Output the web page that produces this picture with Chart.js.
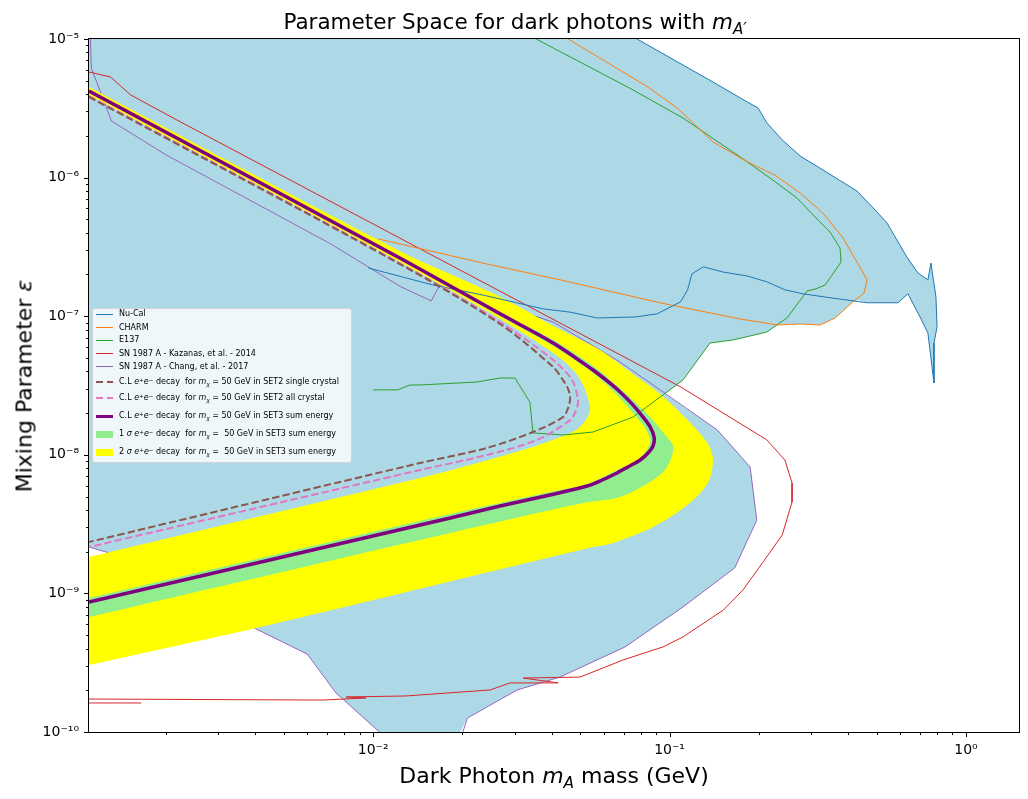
<!DOCTYPE html>
<html lang="en">
<head>
<meta charset="utf-8">
<title>Parameter Space for dark photons</title>
<script src="https://cdn.jsdelivr.net/npm/chart.js@4.4.1/dist/chart.umd.min.js"></script>
<style>
  html,body{margin:0;padding:0;background:#fff;}
  #wrap{position:relative;width:1028px;height:799px;overflow:hidden;font-family:'DejaVu Sans','Noto Sans',sans-serif;color:#000;}
  #chart{position:absolute;left:0;top:0;}
  .txt{position:absolute;white-space:nowrap;}
  #title{left:0;width:1030px;text-align:center;top:11px;font-size:21.5px;line-height:21.5px;}
  #xlabel{left:89px;width:930px;text-align:center;top:765px;font-size:22px;line-height:22px;}
  #ylabel{left:-322px;top:374.5px;width:693px;text-align:center;font-size:22px;line-height:22px;transform:rotate(-90deg);}
  sub,sup{font-size:70%;line-height:0;position:relative;vertical-align:baseline;}
  sub{top:0.3em;} sup{top:-0.45em;}
  #legend{position:absolute;left:92px;top:308px;width:260px;height:155px;box-sizing:border-box;border:1px solid rgba(204,204,204,0.8);border-radius:3px;background:rgba(255,255,255,0.8);font-size:8px;}
  .row{position:absolute;left:26px;height:10px;line-height:10px;white-space:nowrap;}
  .sw{position:absolute;left:3px;width:17px;}
</style>
</head>
<body>
<div id="wrap">
  <canvas id="chart" width="1028" height="799"></canvas>
  <div id="title" class="txt">Parameter Space for dark photons with <i>m<sub>A′</sub></i></div>
  <div id="xlabel" class="txt">Dark Photon <i>m<sub>A</sub></i> mass (GeV)</div>
  <div id="ylabel" class="txt">Mixing Parameter <i>ε</i></div>
  <div id="legend"></div>
</div>
<script>
// ---------------- data (x = dark photon mass in GeV, y = mixing parameter) ----------------
const nuCal = [[6.81e-2,1.16e-5],[7.77e-2,1.0e-5],[1.40e-1,4.90e-6],[1.83e-1,3.51e-6],[1.99e-1,3.18e-6],[2.13e-1,2.48e-6],[2.40e-1,1.87e-6],[2.76e-1,1.43e-6],[3.22e-1,1.17e-6],[4.29e-1,8.00e-7],[5.01e-1,5.65e-7],[5.42e-1,4.70e-7],[6.32e-1,2.67e-7],[6.89e-1,2.05e-7],[7.44e-1,1.83e-7],[7.62e-1,2.42e-7],[7.92e-1,1.38e-7],[7.99e-1,8.36e-8],[7.80e-1,6.41e-8],[7.80e-1,3.30e-8],[7.44e-1,7.57e-8],[7.00e-1,9.87e-8],[6.37e-1,1.45e-7],[5.90e-1,1.25e-7],[4.64e-1,1.25e-7],[3.56e-1,1.35e-7],[2.82e-1,1.45e-7],[2.45e-1,1.55e-7],[2.13e-1,1.77e-7],[1.83e-1,1.95e-7],[1.52e-1,2.08e-7],[1.30e-1,2.27e-7],[1.19e-1,2.02e-7],[1.15e-1,1.55e-7],[1.09e-1,1.27e-7],[9.08e-2,1.04e-7],[7.65e-2,9.87e-8],[5.70e-2,9.71e-8],[4.62e-2,1.07e-7],[3.74e-2,1.13e-7],[2.35e-2,1.42e-7],[1.59e-2,1.68e-7],[9.62e-3,2.23e-7]];
const charm = [[4.21e-2,1.16e-5],[4.55e-2,1.0e-5],[8.46e-2,4.50e-6],[1.06e-1,3.18e-6],[1.24e-1,2.32e-6],[1.40e-1,1.81e-6],[1.83e-1,1.30e-6],[2.27e-1,1.04e-6],[2.76e-1,7.74e-7],[3.29e-1,5.55e-7],[3.85e-1,3.67e-7],[4.64e-1,1.83e-7],[4.53e-1,1.47e-7],[4.16e-1,1.27e-7],[3.62e-1,9.71e-8],[3.22e-1,8.64e-8],[2.76e-1,8.79e-8],[2.31e-1,8.64e-8],[1.73e-1,9.55e-8],[9.29e-2,1.25e-7],[4.27e-2,1.83e-7],[2.42e-2,2.38e-7],[1.04e-2,3.61e-7]];
const e137 = [[3.11e-2,1.16e-5],[3.60e-2,9.84e-6],[4.05e-2,8.61e-6],[4.99e-2,6.82e-6],[7.53e-2,4.29e-6],[1.11e-1,2.69e-6],[1.73e-1,1.41e-6],[2.23e-1,9.61e-7],[2.69e-1,7.13e-7],[3.17e-1,4.94e-7],[3.48e-1,4.05e-7],[3.76e-1,3.10e-7],[3.79e-1,2.46e-7],[3.35e-1,1.68e-7],[3.10e-1,1.57e-7],[2.91e-1,1.52e-7],[2.49e-1,9.71e-8],[2.13e-1,7.69e-8],[1.64e-1,6.74e-8],[1.37e-1,6.41e-8],[1.11e-1,3.46e-8],[7.53e-2,1.87e-8],[5.52e-2,1.46e-8],[4.37e-2,1.39e-8],[3.46e-2,1.44e-8],[3.38e-2,2.40e-8],[3.01e-2,3.58e-8],[2.68e-2,3.58e-8],[2.24e-2,3.35e-8],[1.44e-2,3.19e-8],[1.33e-2,3.19e-8],[1.21e-2,2.94e-8],[1.00e-2,2.94e-8]];
const snKazanas = [[1.10e-3,5.78e-6],[1.30e-3,5.32e-6],[1.52e-3,3.95e-6],[2.18e-3,2.60e-6],[1.09e-1,3.09e-8],[2.13e-1,1.28e-8],[2.45e-1,9.17e-9],[2.59e-1,6.26e-9],[2.59e-1,4.57e-9],[2.40e-1,2.64e-9],[2.07e-1,1.69e-9],[1.77e-1,1.06e-9],[1.52e-1,7.59e-10],[1.11e-1,4.85e-10],[9.51e-2,4.11e-10],[6.97e-2,3.31e-10],[4.99e-2,2.49e-10],[3.21e-2,2.45e-10],[4.21e-2,2.26e-10],[2.90e-2,2.26e-10],[2.48e-2,2.01e-10],[1.29e-2,1.82e-10],[8.11e-3,1.79e-10],[9.47e-3,1.76e-10],[6.73e-3,1.70e-10],[1.05e-3,1.73e-10],[1.05e-3,1.62e-10],[1.65e-3,1.62e-10]];
const snChang = [[1.11e-3,1.16e-5],[1.12e-3,6.18e-6],[1.31e-3,2.56e-6],[2.00e-3,1.46e-6],[7.11e-3,3.37e-7],[1.24e-2,1.63e-7],[1.57e-2,1.29e-7],[1.68e-2,1.68e-7],[4.05e-2,9.08e-8],[6.81e-2,4.67e-8],[9.51e-2,2.84e-8],[1.45e-1,1.51e-8],[1.87e-1,8.17e-9],[1.97e-1,3.38e-9],[1.66e-1,1.53e-9],[1.11e-1,7.98e-10],[7.08e-2,4.11e-10],[4.27e-2,2.49e-10],[3.06e-2,2.01e-10],[2.08e-2,1.26e-10],[1.94e-2,8.0e-11],[1.04e-2,8.0e-11],[1.05e-2,1.0e-10],[7.50e-3,1.91e-10],[5.99e-3,3.65e-10],[3.97e-3,5.63e-10],[2.86e-3,8.25e-10],[1.60e-3,1.71e-9],[1.10e-3,2.16e-9],[1.0e-3,2.31e-9]];
const set2Single = [[1.10e-3,3.82e-6],[1.23e-2,2.38e-7],[2.68e-2,8.79e-8],[4.05e-2,4.30e-8],[4.37e-2,3.46e-8],[4.55e-2,2.98e-8],[4.62e-2,2.57e-8],[4.55e-2,2.18e-8],[4.37e-2,1.87e-8],[3.46e-2,1.46e-8],[2.42e-2,1.12e-8],[1.44e-2,8.73e-9],[1.10e-3,2.35e-9]];
const set2All = [[1.10e-3,3.88e-6],[1.23e-2,2.42e-7],[2.68e-2,9.08e-8],[4.05e-2,4.83e-8],[4.69e-2,3.46e-8],[4.91e-2,2.49e-8],[4.84e-2,2.10e-8],[4.62e-2,1.78e-8],[3.57e-2,1.28e-8],[2.42e-2,9.97e-9],[1.44e-2,7.77e-9],[1.10e-3,2.16e-9]];
const set3Sum = [[1.10e-3,4.22e-6],[1.23e-2,2.63e-7],[2.68e-2,1.04e-7],[4.05e-2,6.41e-8],[5.52e-2,4.09e-8],[6.16e-2,3.41e-8],[6.81e-2,2.84e-8],[7.47e-2,2.33e-8],[8.14e-2,1.87e-8],[8.60e-2,1.59e-8],[8.87e-2,1.34e-8],[8.80e-2,1.16e-8],[8.46e-2,1.03e-8],[7.96e-2,9.17e-9],[7.24e-2,8.17e-9],[6.65e-2,7.39e-9],[5.83e-2,6.47e-9],[5.27e-2,5.95e-9],[3.95e-2,5.13e-9],[2.68e-2,4.27e-9],[1.82e-2,3.50e-9],[1.10e-3,8.67e-10]];
const sigma1Outer = [[1.0e-3,4.75e-6],[1.10e-3,4.29e-6],[1.23e-2,2.67e-7],[2.68e-2,1.07e-7],[4.05e-2,6.74e-8],[5.52e-2,4.37e-8],[7.08e-2,2.79e-8],[8.60e-2,1.87e-8],[9.66e-2,1.39e-8],[1.03e-1,1.14e-8],[9.81e-2,8.17e-9],[8.80e-2,6.58e-9],[6.81e-2,4.96e-9],[5.11e-2,4.49e-9],[1.82e-2,2.73e-9],[1.10e-3,6.76e-10],[1.0e-3,6.40e-10]];
const sigma1Inner = [[1.0e-3,4.52e-6],[1.10e-3,4.08e-6],[1.23e-2,2.54e-7],[2.68e-2,1.00e-7],[4.05e-2,6.10e-8],[5.52e-2,3.89e-8],[6.55e-2,2.79e-8],[7.47e-2,2.04e-8],[8.27e-2,1.56e-8],[8.60e-2,1.24e-8],[7.96e-2,9.48e-9],[6.65e-2,7.77e-9],[5.27e-2,6.16e-9],[3.95e-2,5.39e-9],[1.82e-2,3.74e-9],[1.10e-3,9.26e-10],[1.0e-3,8.80e-10]];
const sigma2Outer = [[1.0e-3,5.03e-6],[1.10e-3,4.50e-6],[1.23e-2,2.95e-7],[2.68e-2,1.38e-7],[4.05e-2,8.50e-8],[5.83e-2,5.70e-8],[7.36e-2,3.96e-8],[9.29e-2,2.75e-8],[1.15e-1,1.78e-8],[1.34e-1,1.22e-8],[1.40e-1,9.48e-9],[1.37e-1,6.80e-9],[1.27e-1,5.30e-9],[1.09e-1,4.00e-9],[8.80e-2,3.01e-9],[7.19e-2,2.51e-9],[6.30e-2,2.27e-9],[5.35e-2,2.13e-9],[1.46e-2,1.09e-9],[4.03e-3,5.63e-10],[1.10e-3,3.04e-10],[1.0e-3,2.88e-10]];
const sigma2Inner = [[1.0e-3,4.40e-6],[1.10e-3,3.95e-6],[1.23e-2,2.46e-7],[2.68e-2,9.55e-8],[4.05e-2,5.43e-8],[4.73e-2,4.09e-8],[5.11e-2,3.19e-8],[5.39e-2,2.21e-8],[5.27e-2,1.84e-8],[4.84e-2,1.51e-8],[3.95e-2,1.26e-8],[3.13e-2,1.07e-8],[2.12e-2,8.44e-9],[1.44e-2,6.80e-9],[1.10e-3,1.83e-9],[1.0e-3,1.74e-9]];
const excludedRegion = [[1.0e-3,1.2e-5],[6.81e-2,1.16e-5],[7.77e-2,1.0e-5],[1.40e-1,4.90e-6],[1.83e-1,3.51e-6],[1.99e-1,3.18e-6],[2.13e-1,2.48e-6],[2.40e-1,1.87e-6],[2.76e-1,1.43e-6],[3.22e-1,1.17e-6],[4.29e-1,8.00e-7],[5.01e-1,5.65e-7],[5.42e-1,4.70e-7],[6.32e-1,2.67e-7],[6.89e-1,2.05e-7],[7.44e-1,1.83e-7],[7.62e-1,2.42e-7],[7.92e-1,1.38e-7],[7.99e-1,8.36e-8],[7.80e-1,6.41e-8],[7.80e-1,3.30e-8],[7.44e-1,7.57e-8],[7.00e-1,9.87e-8],[6.37e-1,1.45e-7],[5.90e-1,1.25e-7],[4.64e-1,1.25e-7],[4.32e-1,1.31e-7],[4.16e-1,1.27e-7],[3.62e-1,9.71e-8],[3.22e-1,8.64e-8],[2.76e-1,8.79e-8],[2.31e-1,8.64e-8],[2.13e-1,7.69e-8],[1.64e-1,6.74e-8],[1.37e-1,6.41e-8],[1.11e-1,3.46e-8],[9.66e-2,2.75e-8],[1.45e-1,1.51e-8],[1.87e-1,8.17e-9],[1.97e-1,3.38e-9],[1.66e-1,1.53e-9],[1.11e-1,7.98e-10],[7.08e-2,4.11e-10],[4.27e-2,2.49e-10],[3.06e-2,2.01e-10],[2.08e-2,1.26e-10],[1.97e-2,1.0e-10],[1.94e-2,8.0e-11],[1.04e-2,8.0e-11],[1.05e-2,1.0e-10],[7.50e-3,1.91e-10],[5.99e-3,3.65e-10],[3.97e-3,5.63e-10],[2.86e-3,8.25e-10],[1.60e-3,1.71e-9],[1.10e-3,2.16e-9],[1.0e-3,2.31e-9]];

// axis ranges and tick labels
const xRange = [1.1e-3, 1.51];
const yRange = [1e-10, 1e-5];
const xTickValues = [1e-2, 1e-1, 1];
const xTickLabels = ['10\u207B\u00B2', '10\u207B\u00B9', '10\u2070'];
const yTickValues = [1e-10, 1e-9, 1e-8, 1e-7, 1e-6, 1e-5];
const yTickLabels = ['10\u207B\u00B9\u2070', '10\u207B\u2079', '10\u207B\u2078', '10\u207B\u2077', '10\u207B\u2076', '10\u207B\u2075'];

// legend
const clText = 'C.L <i>e</i><sup>+</sup><i>e</i><sup>\u2212</sup> decay&nbsp; for <i>m<sub>\u03C7</sub></i> = 50 GeV in ';
const sigText = n => n + ' <i>\u03C3</i> <i>e</i><sup>+</sup><i>e</i><sup>\u2212</sup> decay&nbsp; for <i>m<sub>\u03C7</sub></i> = &nbsp;50 GeV in SET3 sum energy';
const legendLabels = ['Nu-Cal', 'CHARM', 'E137', 'SN 1987 A - Kazanas, et al. - 2014', 'SN 1987 A - Chang, et al. - 2017',
  clText + 'SET2 single crystal', clText + 'SET2 all crystal', clText + 'SET3 sum energy', sigText(1), sigText(2)];
const legendKinds = ['line', 'line', 'line', 'line', 'line', 'dash', 'dash', 'thick', 'patch', 'patch'];
const legendColors = ['#1f77b4', '#ff7f0e', '#2ca02c', '#d62728', '#9467bd', '#8c564b', '#e377c2', '#800080', '#90ee90', '#ffff00'];
const legendRowCenters = [5.3, 18.7, 31, 44.5, 57.7, 73.3, 89.3, 107.3, 125.3, 143.3];

// ---------------- build ----------------
const toPts = arr => arr.map(p => ({x: p[0], y: p[1]}));
const lineDs = (label, arr, extra) => Object.assign({
  label, data: toPts(arr), pointRadius: 0, pointHoverRadius: 0, borderWidth: 1,
  fill: false, clip: 0, tension: 0, borderJoinStyle: 'round', capBezierPoints: false
}, extra);
const polyDs = (label, arr, color, order, tension) => ({
  label, data: toPts(arr), pointRadius: 0, pointHoverRadius: 0, borderWidth: 0,
  borderColor: 'rgba(0,0,0,0)', backgroundColor: color, fill: 'shape', clip: 0,
  tension: tension || 0, capBezierPoints: false, order
});

const labelFor = (values, labels, v) => {
  const i = values.findIndex(t => Math.abs(Math.log10(t) - Math.log10(v)) < 1e-6);
  return i >= 0 ? labels[i] : '';
};
const logTicks = (min, max) => {
  const out = [];
  for (let e = Math.floor(Math.log10(min)); e <= Math.ceil(Math.log10(max)); e++) {
    for (let m = 1; m <= 9; m++) {
      const v = m * Math.pow(10, e);
      if (v >= min * 0.999999 && v <= max * 1.000001) out.push({value: v});
    }
  }
  return out;
};

const tickFont = {family: "'DejaVu Sans', sans-serif", size: 14};

const frameTicks = {
  id: 'frameTicks',
  afterDraw(chart) {
    const {ctx, chartArea: a} = chart;
    const xs = chart.scales.x, ys = chart.scales.y;
    ctx.save();
    ctx.strokeStyle = '#000';
    ctx.lineWidth = 1;
    ctx.beginPath();
    xs.ticks.forEach(t => {
      const px = Math.round(xs.getPixelForValue(t.value)) + 0.5;
      if (px < a.left - 1 || px > a.right + 1) return;
      const len = labelFor(xTickValues, xTickLabels, t.value) ? 5 : 3;
      ctx.moveTo(px, a.bottom); ctx.lineTo(px, a.bottom + len);
    });
    ys.ticks.forEach(t => {
      const py = Math.round(ys.getPixelForValue(t.value)) + 0.5;
      if (py < a.top - 1 || py > a.bottom + 1) return;
      const len = labelFor(yTickValues, yTickLabels, t.value) ? 5 : 3;
      ctx.moveTo(a.left - len, py); ctx.lineTo(a.left, py);
    });
    ctx.stroke();
    ctx.lineWidth = 1;
    ctx.strokeRect(Math.round(a.left) - 0.5, Math.round(a.top) - 0.5,
                   Math.round(a.right - a.left) + 1, Math.round(a.bottom - a.top) + 1);
    ctx.restore();
  }
};

new Chart(document.getElementById('chart'), {
  type: 'line',
  data: {
    datasets: [
      lineDs('Nu-Cal', nuCal, {borderColor: '#1f77b4', order: 6}),
      lineDs('CHARM', charm, {borderColor: '#ff7f0e', order: 6}),
      lineDs('E137', e137, {borderColor: '#2ca02c', order: 6}),
      lineDs('SN 1987 A - Kazanas, et al. - 2014', snKazanas, {borderColor: '#d62728', order: 6}),
      lineDs('SN 1987 A - Chang, et al. - 2017', snChang, {borderColor: '#9467bd', order: 9}),
      lineDs('C.L SET2 single crystal', set2Single, {borderColor: '#8c564b', borderWidth: 2, borderDash: [7.4, 3.2], tension: 0.3, order: 5}),
      lineDs('C.L SET2 all crystal', set2All, {borderColor: '#e377c2', borderWidth: 2, borderDash: [7.4, 3.2], tension: 0.3, order: 5.1}),
      lineDs('C.L SET3 sum energy', set3Sum, {borderColor: '#800080', borderWidth: 3.5, tension: 0.3, order: 4}),
      polyDs('1 sigma SET3 sum energy', sigma1Outer.concat(sigma1Inner.slice().reverse()), '#90ee90', 7, 0.3),
      polyDs('2 sigma SET3 sum energy', sigma2Outer.concat(sigma2Inner.slice().reverse()), '#ffff00', 8, 0.3),
      polyDs('excluded region', excludedRegion, '#add8e6', 10, 0)
    ]
  },
  options: {
    responsive: false,
    animation: false,
    devicePixelRatio: 1,
    layout: {padding: {left: 0, right: 9, top: 39, bottom: 0}},
    plugins: {legend: {display: false}, title: {display: false}, tooltip: {enabled: false}},
    events: [],
    scales: {
      x: {
        type: 'logarithmic', position: 'bottom', min: xRange[0], max: xRange[1],
        grid: {display: false, drawTicks: false, tickLength: 0}, border: {display: false},
        afterBuildTicks: s => { s.ticks = logTicks(xRange[0], xRange[1]); },
        afterFit: s => { s.height = 67; },
        ticks: {autoSkip: false, maxRotation: 0, minRotation: 0, padding: 10, color: '#000', font: tickFont,
                callback: v => labelFor(xTickValues, xTickLabels, v)}
      },
      y: {
        type: 'logarithmic', position: 'left', min: yRange[0], max: yRange[1],
        grid: {display: false, drawTicks: false, tickLength: 0}, border: {display: false},
        afterBuildTicks: s => { s.ticks = logTicks(yRange[0], yRange[1]); },
        afterFit: s => { s.width = 89; },
        ticks: {autoSkip: false, padding: 10, color: '#000', font: tickFont,
                callback: v => labelFor(yTickValues, yTickLabels, v)}
      }
    }
  },
  plugins: [frameTicks]
});

// legend (HTML text)
const legend = document.getElementById('legend');
legendLabels.forEach((lab, i) => {
  const c = legendRowCenters[i];
  const sw = document.createElement('div');
  sw.className = 'sw';
  const kind = legendKinds[i], col = legendColors[i];
  if (kind === 'line') { sw.style.top = (c - 0.5) + 'px'; sw.style.height = '1px'; sw.style.background = col; }
  else if (kind === 'thick') { sw.style.top = (c - 1.75) + 'px'; sw.style.height = '3.5px'; sw.style.background = col; }
  else if (kind === 'dash') { sw.style.top = (c - 1) + 'px'; sw.style.height = '2px';
    sw.style.background = 'repeating-linear-gradient(to right,' + col + ' 0px,' + col + ' 7.4px,transparent 7.4px,transparent 10.6px)'; }
  else { sw.style.top = (c - 3.5) + 'px'; sw.style.height = '7px'; sw.style.background = col; }
  legend.appendChild(sw);
  const row = document.createElement('div');
  row.className = 'row';
  row.style.top = (c - 5) + 'px';
  row.innerHTML = lab;
  legend.appendChild(row);
});
</script>
</body>
</html>
